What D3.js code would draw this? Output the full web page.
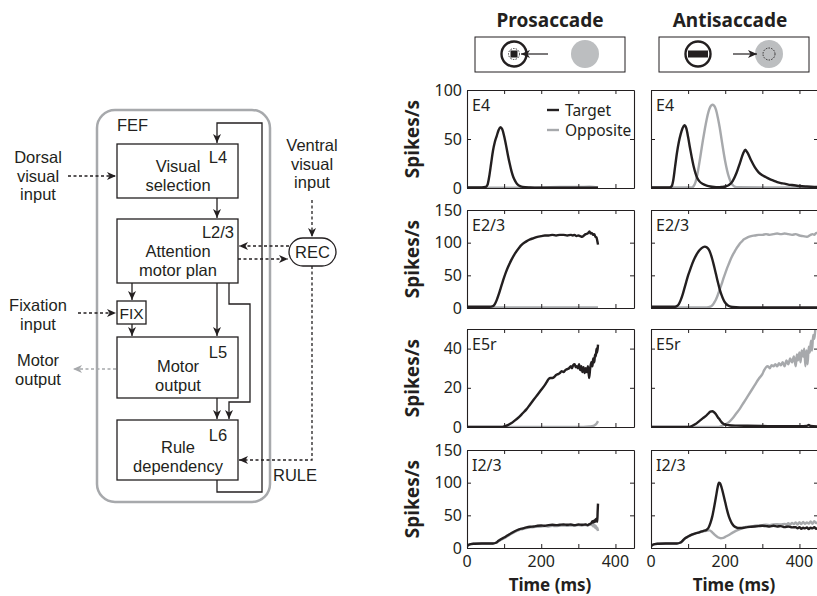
<!DOCTYPE html>
<html>
<head>
<meta charset="utf-8">
<script src="https://cdn.jsdelivr.net/npm/d3@7"></script>
<style>
  body { margin: 0; background: #fff; }
  svg { font-family: "Noto Sans", sans-serif; }
</style>
</head>
<body>
<svg id="fig" width="817" height="596"></svg>
<script>
// ---- data: [time ms, spikes/s] ----
const e4ProTarget = [[0,0.5],[40,0.5],[50,1],[55,3],[60,12],[65,25],[70,38],[75,47],[80,53],[85,59],[90,62],[95,60],[100,53],[105,44],[110,34],[115,25],[120,17],[125,11],[130,7],[135,4],[140,2.5],[150,1.2],[170,0.6],[200,0.3],[250,0.2],[300,0.2],[353,0.2]];
const e4ProOpp = [[0,0.4],[100,0.3],[200,0.5],[250,1],[300,1],[330,1.2],[353,0.5]];
const e4AntiTarget = [[0,0.5],[50,0.5],[56,2],[60,8],[65,22],[70,36],[75,47],[80,55],[85,61],[90,64],[95,61],[100,52],[105,41],[110,31],[115,22],[120,15],[125,10],[130,7],[140,4],[150,2.5],[160,1.5],[170,1],[180,0.8],[190,1],[200,1.5],[210,3],[220,7],[230,15],[240,26],[248,35],[254,39],[260,36],[270,28],[280,21],[290,16],[300,13],[310,11],[320,9],[330,7.5],[340,6],[350,5],[360,4.5],[370,3.5],[380,3],[390,2.5],[400,2],[420,1.5],[440,1.2],[450,1]];
const e4AntiOpp = [[0,0.5],[110,0.5],[115,2],[120,6],[125,14],[130,25],[135,37],[140,49],[145,60],[150,70],[155,78],[160,83],[165,85],[170,84],[175,80],[180,72],[185,62],[190,50],[195,38],[200,27],[205,18],[210,11],[215,6],[220,3],[225,1.5],[235,0.7],[300,0.5],[450,0.5]];

const e23ProTarget = [[0,2],[60,2],[70,3],[75,6],[80,12],[85,20],[90,29],[95,38],[100,47],[105,55],[110,62],[120,74],[130,84],[140,92],[150,98],[160,102],[170,105],[180,107],[190,109],[200,110],[210,111],[220,111],[230,112],[240,111],[250,112],[260,112],[270,111],[280,112],[285,111],[290,112],[295,110],[300,111],[305,110],[310,109],[315,111],[320,113],[325,114],[330,117],[333,114],[336,115],[340,112],[343,113],[346,109],[349,108],[351,103],[353,97]];
const e23ProOpp = [[0,1],[200,0.8],[353,0.8]];
const e23AntiTarget = [[0,2],[65,2],[70,3],[75,6],[80,12],[85,20],[90,30],[95,40],[100,50],[105,58],[110,66],[115,73],[120,79],[125,84],[130,88],[135,91],[140,93],[145,94],[150,93],[155,90],[160,84],[165,75],[170,64],[175,52],[180,40],[185,29],[190,20],[195,13],[200,8],[205,5],[210,3],[220,1.5],[240,1],[300,0.8],[450,0.8]];
const e23AntiOpp = [[0,1],[150,1],[160,2],[165,4],[170,8],[175,13],[180,20],[185,28],[190,36],[195,45],[200,53],[205,61],[210,68],[215,75],[220,81],[225,86],[230,91],[235,95],[240,99],[245,102],[250,105],[260,108],[270,110],[280,111],[290,112],[300,112],[310,113],[320,112],[330,113],[340,114],[350,113],[360,114],[370,113],[380,112],[390,113],[400,111],[410,110],[420,109],[430,112],[435,113],[440,112],[445,115],[450,114]];

const e5ProTarget = [[0,0],[95,0],[100,0.3],[110,1],[120,2],[130,3.5],[140,5],[150,7],[160,9],[170,11.5],[180,14],[190,16.5],[200,19],[210,21.5],[215,23],[220,24.5],[225,25],[230,25],[235,25.5],[240,26.5],[245,27],[250,27.5],[255,28.5],[260,28],[265,29],[270,29.5],[275,30],[280,31],[283,30],[286,31.5],[290,32],[293,30.5],[296,31],[299,30],[302,32],[305,29],[308,31],[311,28],[314,30.5],[317,27.5],[320,30],[323,28],[326,31],[329,25],[332,30],[335,33],[338,31],[340,35],[343,33],[345,37],[347,36],[349,40],[351,38],[353,42]];
const e5ProOpp = [[0,0],[300,0],[330,0.3],[340,0.5],[345,1],[350,2],[353,3]];
const e5AntiTarget = [[0,0],[100,0],[110,0.5],[120,1.5],[130,3],[140,4.5],[150,6],[155,7],[160,7.8],[165,8],[170,7.5],[175,6.5],[180,5],[185,3.8],[190,2.5],[195,1.7],[200,1.2],[210,0.9],[230,0.7],[260,0.6],[300,0.5],[350,0.4],[400,0.4],[420,0.6],[425,1],[430,0.5],[450,0.3]];
const e5AntiOpp = [[0,0],[180,0],[190,0.5],[200,1.3],[210,2.5],[220,4.5],[230,7],[240,9.5],[250,12.5],[260,15.5],[270,18.5],[280,21.5],[290,24.5],[300,27],[305,29],[310,30.5],[315,31],[320,30],[325,31.5],[330,31],[335,32],[340,31],[345,32.5],[350,31.5],[355,33],[360,31],[365,34],[370,32],[375,35],[380,33],[385,36],[390,31],[393,37],[396,34],[400,38],[403,33],[406,39],[410,36],[413,40],[416,31],[419,39],[422,32],[425,41],[428,38],[431,44],[434,39],[437,47],[440,45],[443,50],[446,52]];

const i23ProTarget = [[0,3],[5,5],[10,6],[20,6.5],[40,7],[60,7],[70,7],[78,8],[85,11],[90,13],[100,16],[110,19.5],[120,23],[130,26],[140,28.5],[150,30],[160,31.5],[170,32.5],[180,33],[190,34],[200,34.5],[210,34],[220,35],[230,35.5],[240,35],[250,35.5],[260,36],[270,35.5],[280,36],[290,35],[300,36],[310,35.5],[320,36],[325,35],[330,36.5],[335,38],[338,41],[340,39],[343,42],[345,40],[347,44],[349,41],[350,46],[351,40],[352,55],[353,68]];
const i23ProOpp = [[0,3],[5,5],[10,6],[20,6.5],[40,7],[60,7],[70,7],[78,8],[85,10.5],[90,12],[100,15],[110,18.5],[120,22],[130,25],[140,27.5],[150,29],[160,30.5],[170,31.5],[180,32],[190,32.5],[200,33],[210,33.5],[220,33],[230,34],[240,33.5],[250,34],[260,34.5],[270,34],[280,34.5],[290,34],[300,35],[310,34.5],[320,35.5],[325,34],[330,36],[335,35],[338,37],[340,33],[343,36],[345,31],[347,34],[349,29],[351,31],[353,26]];
const i23AntiTarget = [[0,3],[5,5],[10,6],[20,6.5],[40,7],[60,7],[70,7],[78,8],[85,11],[90,14],[100,17.5],[110,20.5],[120,22.5],[130,24],[140,26],[150,28],[155,31],[160,38],[165,48],[170,62],[175,78],[180,94],[183,100],[186,99],[190,93],[195,82],[200,70],[205,58],[210,48],[215,41],[220,36],[225,33],[230,31.5],[235,30.5],[240,30.5],[250,31],[260,32],[270,32.5],[280,33],[290,33.5],[300,34],[310,33.5],[320,33],[330,34],[340,33],[350,33.5],[360,32],[370,33],[380,31.5],[390,32],[395,30],[400,32],[405,29.5],[410,31],[415,30],[420,31.5],[425,29],[430,31],[435,30],[440,32],[445,29.5],[450,31]];
const i23AntiOpp = [[0,3],[5,5],[10,6],[20,6.5],[40,7],[60,7],[70,7],[78,8],[85,11],[90,14],[100,17.5],[110,20.5],[120,22.5],[130,24],[140,25.5],[150,26.5],[158,27],[165,24],[172,20],[180,16.5],[188,15],[195,15.5],[200,17],[210,20],[220,23.5],[230,26.5],[240,29],[250,31],[260,32.5],[270,33],[280,34],[290,34.5],[300,35],[310,35.5],[320,35],[330,36],[340,36.5],[350,36],[360,37],[365,36],[370,38],[375,36],[380,38.5],[385,36.5],[390,39],[395,36],[400,39.5],[405,36.5],[410,40],[415,37],[420,39],[425,37.5],[430,40.5],[435,37],[440,41],[445,38],[450,40]];

const rowNames = ["E4", "E2/3", "E5r", "I2/3"];
const rowMax = [100, 150, 50, 150];
const rowTicks = [[0, 50, 100], [0, 50, 100, 150], [0, 20, 40], [0, 50, 100, 150]];
const xTicks = [0, 100, 200, 300, 400];
const xTickLabels = [0, 200, 400];
const conditions = ["Prosaccade", "Antisaccade"];
const series = [
  [[e4ProTarget, e4ProOpp], [e4AntiTarget, e4AntiOpp]],
  [[e23ProTarget, e23ProOpp], [e23AntiTarget, e23AntiOpp]],
  [[e5ProTarget, e5ProOpp], [e5AntiTarget, e5AntiOpp]],
  [[i23ProTarget, i23ProOpp], [i23AntiTarget, i23AntiOpp]]
];
const legendNames = ["Target", "Opposite"];

const INK = "#231f20";
const GREY = "#a7a9ac";
const svg = d3.select("#fig");

// ---- markers ----
const defs = svg.append("defs");
[["arrowK", INK], ["arrowG", GREY]].forEach(([id, col]) => {
  defs.append("marker").attr("id", id)
    .attr("viewBox", "-10 -5 10 10").attr("refX", 0).attr("refY", 0)
    .attr("markerWidth", 10).attr("markerHeight", 10).attr("markerUnits", "userSpaceOnUse")
    .attr("orient", "auto")
    .append("path").attr("d", "M0,0 L-9,-4 L-6.5,0 L-9,4 Z").attr("fill", col);
});

// ---- right: response panels ----
const colLeft = [467, 651];
const panelW = 167;
const rowTop = [90, 210, 329, 450];
const panelH = 98;

conditions.forEach((c, ci) => {
  svg.append("text")
    .attr("x", ci === 0 ? 550 : 730).attr("y", 27)
    .attr("text-anchor", "middle")
    .attr("font-weight", "bold").attr("font-size", 19)
    .attr("fill", INK)
    .text(c);
});

rowNames.forEach((name, ri) => {
  const y = d3.scaleLinear().domain([0, rowMax[ri]]).range([rowTop[ri] + panelH, rowTop[ri]]);
  conditions.forEach((c, ci) => {
    const x = d3.scaleLinear().domain([0, 450]).range([colLeft[ci], colLeft[ci] + panelW]);
    const g = svg.append("g");
    const clipId = "clip" + ri + ci;
    defs.append("clipPath").attr("id", clipId)
      .append("rect").attr("x", colLeft[ci]).attr("y", rowTop[ri])
      .attr("width", panelW).attr("height", panelH);

    const line = d3.line().x(d => x(d[0])).y(d => y(d[1])).curve(d3.curveMonotoneX);
    const pair = series[ri][ci];
    [1, 0].forEach(k => {
      g.append("path")
        .datum(pair[k])
        .attr("clip-path", `url(#${clipId})`)
        .attr("d", line)
        .attr("fill", "none")
        .attr("stroke", k === 0 ? INK : GREY)
        .attr("stroke-width", 2.4)
        .attr("stroke-linejoin", "round");
    });

    // box with inward ticks, mirrored on all four sides
    g.append("g").attr("transform", `translate(0,${rowTop[ri] + panelH})`)
      .call(d3.axisBottom(x).tickValues(xTicks).tickSizeInner(-4).tickSizeOuter(0).tickFormat(""));
    g.append("g").attr("transform", `translate(0,${rowTop[ri]})`)
      .call(d3.axisTop(x).tickValues(xTicks).tickSizeInner(-4).tickSizeOuter(0).tickFormat(""));
    g.append("g").attr("transform", `translate(${colLeft[ci]},0)`)
      .call(d3.axisLeft(y).tickValues(rowTicks[ri]).tickSizeInner(-4).tickSizeOuter(0)
        .tickFormat(ci === 0 ? d3.format("d") : ""));
    g.append("g").attr("transform", `translate(${colLeft[ci] + panelW},0)`)
      .call(d3.axisRight(y).tickValues(rowTicks[ri]).tickSizeInner(-4).tickSizeOuter(0).tickFormat(""));
    g.selectAll(".domain").attr("stroke", INK).attr("stroke-width", 1.1);
    g.selectAll(".tick line").attr("stroke", INK);
    g.selectAll(".tick text").attr("font-size", 16).attr("fill", INK)
      .attr("font-family", "Noto Sans, sans-serif").attr("x", -5);

    g.append("text")
      .attr("x", colLeft[ci] + 5).attr("y", rowTop[ri] + 21)
      .attr("font-size", 16).attr("fill", INK)
      .text(name);

    if (ri === 3) {
      g.selectAll(".xlab").data(xTickLabels).join("text")
        .attr("x", d => x(d)).attr("y", 567)
        .attr("text-anchor", "middle").attr("font-size", 16).attr("fill", INK)
        .text(d => d);
      g.append("text")
        .attr("x", colLeft[ci] + 83).attr("y", 590.5)
        .attr("text-anchor", "middle").attr("font-weight", "bold").attr("font-size", 17)
        .attr("fill", INK)
        .text("Time (ms)");
    }
    if (ri === 0 && ci === 0) {
      legendNames.forEach((ln, li) => {
        const ly = 110 + li * 20;
        g.append("line").attr("x1", 547).attr("x2", 559).attr("y1", ly).attr("y2", ly)
          .attr("stroke", li === 0 ? INK : GREY).attr("stroke-width", 2.4);
        g.append("text").attr("x", 565).attr("y", ly + 5.5)
          .attr("font-size", 15.5).attr("fill", INK).text(ln);
      });
    }
  });
  svg.append("text")
    .attr("transform", `translate(419,${rowTop[ri] + panelH / 2}) rotate(-90)`)
    .attr("text-anchor", "middle")
    .attr("font-weight", "bold").attr("font-size", 19).attr("fill", INK)
    .text("Spikes/s");
});

// ---- task schematics ----
function schematic(bx, anti) {
  const g = svg.append("g");
  g.append("rect").attr("x", bx).attr("y", 37).attr("width", 150).attr("height", 35)
    .attr("fill", "none").attr("stroke", INK).attr("stroke-width", 1);
  const fx = bx + 39, gx = bx + 110, cy = 54;
  g.append("circle").attr("cx", gx).attr("cy", cy).attr("r", 14).attr("fill", "#bcbec0");
  g.append("circle").attr("cx", fx).attr("cy", cy).attr("r", 12.5)
    .attr("fill", "#fff").attr("stroke", INK).attr("stroke-width", 2.4);
  if (!anti) {
    g.append("circle").attr("cx", fx).attr("cy", cy).attr("r", 5.5)
      .attr("fill", "none").attr("stroke", INK).attr("stroke-width", 0.9).attr("stroke-dasharray", "1.5,1.2");
    g.append("rect").attr("x", fx - 3.5).attr("y", cy - 3.5).attr("width", 7).attr("height", 7).attr("fill", INK);
    g.append("line").attr("x1", fx + 34).attr("x2", fx + 7).attr("y1", cy).attr("y2", cy)
      .attr("stroke", INK).attr("stroke-width", 1.2).attr("marker-end", "url(#arrowK)");
  } else {
    g.append("rect").attr("x", fx - 10).attr("y", cy - 3.5).attr("width", 20).attr("height", 7).attr("fill", INK);
    g.append("line").attr("x1", fx + 35).attr("x2", fx + 59).attr("y1", cy).attr("y2", cy)
      .attr("stroke", INK).attr("stroke-width", 1.2).attr("marker-end", "url(#arrowK)");
    g.append("circle").attr("cx", gx).attr("cy", cy).attr("r", 6)
      .attr("fill", "none").attr("stroke", INK).attr("stroke-width", 0.9).attr("stroke-dasharray", "1.5,1.2");
  }
}
schematic(475, false);
schematic(659, true);

// ---- left: FEF laminar diagram (compact-metric font so stacked lines don't collide) ----
const dg = svg.append("g").attr("fill", INK).attr("font-size", 16.5)
  .attr("font-family", "'Liberation Sans', Arial, sans-serif");
dg.append("rect").attr("x", 97).attr("y", 110).attr("width", 173).attr("height", 392)
  .attr("rx", 18).attr("fill", "none").attr("stroke", "#a7a9ac").attr("stroke-width", 2.5);

function label(x, y0, lines, gap) {
  lines.forEach((s, i) => dg.append("text")
    .attr("x", x).attr("y", y0 + i * gap + 6)
    .attr("text-anchor", "middle").text(s));
}

const boxes = [
  { x: 117, y: 144, w: 121, h: 54, tag: "L4", tagY: 157, lines: ["Visual", "selection"], ly: 166 },
  { x: 117, y: 219, w: 121, h: 64, tag: "L2/3", tagY: 232, lines: ["Attention", "motor plan"], ly: 251 },
  { x: 117, y: 337, w: 121, h: 61, tag: "L5", tagY: 352, lines: ["Motor", "output"], ly: 366 },
  { x: 117, y: 420, w: 121, h: 60, tag: "L6", tagY: 435, lines: ["Rule", "dependency"], ly: 447 }
];
boxes.forEach(b => {
  dg.append("rect").attr("x", b.x).attr("y", b.y).attr("width", b.w).attr("height", b.h)
    .attr("fill", "#fff").attr("stroke", INK).attr("stroke-width", 1.3);
  dg.append("text").attr("x", 218).attr("y", b.tagY + 6).attr("text-anchor", "middle").text(b.tag);
  label(178, b.ly, b.lines, 18.7);
});
dg.append("rect").attr("x", 117).attr("y", 301).attr("width", 29).attr("height", 23)
  .attr("fill", "#fff").attr("stroke", INK).attr("stroke-width", 1.3);
dg.append("text").attr("x", 131.5).attr("y", 318.5).attr("text-anchor", "middle")
  .attr("font-size", 15.5).text("FIX");
dg.append("text").attr("x", 117).attr("y", 131).text("FEF");

dg.append("rect").attr("x", 289).attr("y", 238).attr("width", 47).attr("height", 28).attr("rx", 14)
  .attr("fill", "#fff").attr("stroke", INK).attr("stroke-width", 1.3);
dg.append("text").attr("x", 312.5).attr("y", 258).attr("text-anchor", "middle").text("REC");

const solid = [
  "M217,480V492H262V123H217V143",
  "M217,198V218",
  "M132,283V300",
  "M132,324V336",
  "M217,283V336",
  "M229,283V304H250V402H229V419",
  "M217,398V419"
];
solid.forEach(p => dg.append("path").attr("d", p).attr("fill", "none")
  .attr("stroke", INK).attr("stroke-width", 1.3).attr("marker-end", "url(#arrowK)"));

const dashed = [
  "M68,176H116",
  "M78,313H116",
  "M312,200V237",
  "M289,246H239",
  "M238,259H288",
  "M312,266V460H239"
];
dashed.forEach(p => dg.append("path").attr("d", p).attr("fill", "none")
  .attr("stroke", INK).attr("stroke-width", 1.3).attr("stroke-dasharray", "3,2.5")
  .attr("marker-end", "url(#arrowK)"));
dg.append("path").attr("d", "M116,369H73").attr("fill", "none")
  .attr("stroke", GREY).attr("stroke-width", 1.3).attr("stroke-dasharray", "3,2.5")
  .attr("marker-end", "url(#arrowG)");

label(38, 157, ["Dorsal", "visual", "input"], 18.7);
label(38, 305, ["Fixation", "input"], 18.7);
label(38, 360, ["Motor", "output"], 18.7);
label(312, 145, ["Ventral", "visual", "input"], 18.7);
label(295, 475, ["RULE"], 18.7);
</script>
</body>
</html>
